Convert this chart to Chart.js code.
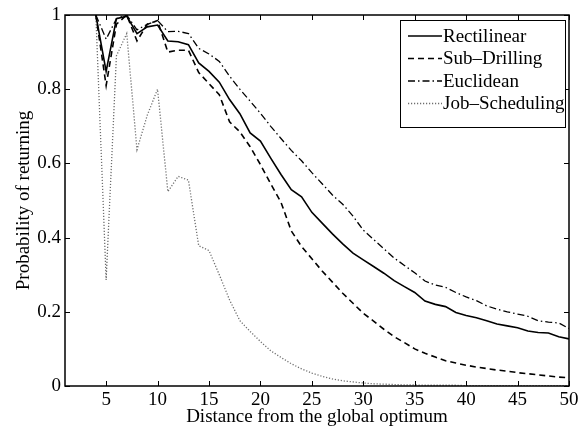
<!DOCTYPE html>
<html>
<head>
<meta charset="utf-8">
<script src="https://cdn.jsdelivr.net/npm/chart.js@4.4.1/dist/chart.umd.min.js"></script>
<style>
  html, body { margin: 0; padding: 0; background: #fff; }
  #wrap { width: 578px; height: 428px; position: relative; }
</style>
</head>
<body>
<div id="wrap"><canvas id="returnChart"></canvas></div>
<script>
// distance from the optimum (x) and probability of returning per landscape
const distances = [4, 5, 6, 7, 8, 9, 10, 11, 12, 13, 14, 15, 16, 17, 18, 19, 20, 21, 22, 23,
    24, 25, 26, 27, 28, 29, 30, 31, 32, 33, 34, 35, 36, 37, 38, 39, 40, 41, 42, 43,
    44, 45, 46, 47, 48, 49, 50];

const rectilinear = [1.0, 0.848, 0.99, 0.997, 0.95, 0.968, 0.973, 0.93, 0.928, 0.92,
    0.871, 0.848, 0.819, 0.772, 0.734, 0.682, 0.66, 0.614, 0.57, 0.529,
    0.51, 0.468, 0.439, 0.41, 0.383, 0.358, 0.34, 0.322, 0.304, 0.284,
    0.268, 0.252, 0.229, 0.22, 0.214, 0.198, 0.19, 0.184, 0.176, 0.167,
    0.162, 0.157, 0.148, 0.144, 0.143, 0.133, 0.127];

const subDrilling = [1.0, 0.81, 0.975, 1.0, 0.93, 0.975, 0.985, 0.90, 0.905, 0.905,
    0.845, 0.815, 0.785, 0.712, 0.685, 0.645, 0.597, 0.545, 0.495, 0.418,
    0.376, 0.343, 0.31, 0.28, 0.25, 0.223, 0.196, 0.175, 0.153, 0.133,
    0.117, 0.10, 0.088, 0.078, 0.068, 0.062, 0.056, 0.051, 0.047, 0.043,
    0.04, 0.036, 0.033, 0.03, 0.027, 0.024, 0.022];

const euclidean = [1.0, 0.935, 0.99, 1.0, 0.96, 0.975, 0.985, 0.955, 0.956, 0.95,
    0.91, 0.895, 0.875, 0.835, 0.80, 0.768, 0.735, 0.70, 0.667, 0.635,
    0.607, 0.575, 0.545, 0.515, 0.49, 0.458, 0.42, 0.395, 0.37, 0.345,
    0.325, 0.305, 0.283, 0.272, 0.266, 0.252, 0.24, 0.23, 0.216, 0.207,
    0.2, 0.194, 0.188, 0.176, 0.172, 0.17, 0.155];

const jobScheduling = [1.0, 0.286, 0.89, 0.95, 0.637, 0.73, 0.80, 0.524, 0.565, 0.555,
    0.378, 0.365, 0.30, 0.232, 0.176, 0.147, 0.12, 0.095, 0.077, 0.06,
    0.046, 0.035, 0.026, 0.019, 0.014, 0.011, 0.008, 0.006, 0.005, 0.004,
    0.003, 0.003, 0.002, 0.002, 0.002, 0.002, 0.001, 0.001, 0.001, 0.001,
    0.001, 0.001, 0.001, 0.001, 0.001, 0.001, 0.001];

const xTicks = [5, 10, 15, 20, 25, 30, 35, 40, 45, 50];
const yTicks = [0, 0.2, 0.4, 0.6, 0.8, 1];

const FONT = "'Liberation Serif', 'Times New Roman', serif";

const toPoints = (ys) => distances.map((d, i) => ({ x: d, y: ys[i] }));

const series = [
    { label: 'Rectilinear', data: rectilinear, color: '#000', width: 1.6, dash: [] },
    { label: 'Sub\u2013Drilling', data: subDrilling, color: '#000', width: 1.6, dash: [6, 4] },
    { label: 'Euclidean', data: euclidean, color: '#000', width: 1.3, dash: [7, 3, 1.5, 3] },
    { label: 'Job\u2013Scheduling', data: jobScheduling, color: '#6e6e6e', width: 1.3, dash: [1.2, 1.8] }
];

// box around the plot, inward ticks on all four sides, and a boxed legend
const framePlugin = {
    id: 'frame',
    afterDraw(chart) {
        const { ctx, chartArea: a, scales } = chart;
        const tick = 5;
        ctx.save();
        ctx.strokeStyle = '#000';
        ctx.lineWidth = 1;
        ctx.setLineDash([]);
        xTicks.forEach(v => {
            const px = Math.round(scales.x.getPixelForValue(v)) + 0.5;
            ctx.beginPath();
            ctx.moveTo(px, a.bottom); ctx.lineTo(px, a.bottom - tick);
            ctx.moveTo(px, a.top); ctx.lineTo(px, a.top + tick);
            ctx.stroke();
        });
        yTicks.forEach(v => {
            const py = Math.round(scales.y.getPixelForValue(v)) + 0.5;
            ctx.beginPath();
            ctx.moveTo(a.left, py); ctx.lineTo(a.left + tick, py);
            ctx.moveTo(a.right, py); ctx.lineTo(a.right - tick, py);
            ctx.stroke();
        });
        ctx.lineWidth = 1.5;
        ctx.strokeRect(a.left, a.top, a.right - a.left, a.bottom - a.top);

        // legend
        const box = { x: 400.5, y: 20.5, w: 165, h: 107 };
        ctx.fillStyle = '#fff';
        ctx.fillRect(box.x, box.y, box.w, box.h);
        ctx.lineWidth = 1;
        ctx.strokeRect(box.x, box.y, box.w, box.h);
        ctx.font = '19px ' + FONT;
        ctx.textBaseline = 'middle';
        ctx.textAlign = 'left';
        series.forEach((s, i) => {
            const cy = 36 + i * 22.5;
            ctx.beginPath();
            ctx.strokeStyle = s.color;
            ctx.lineWidth = s.width;
            ctx.setLineDash(s.dash);
            ctx.moveTo(408, cy);
            ctx.lineTo(442, cy);
            ctx.stroke();
            ctx.setLineDash([]);
            ctx.fillStyle = '#000';
            ctx.fillText(s.label, 443, cy + 1);
        });
        ctx.restore();
    }
};

new Chart(document.getElementById('returnChart'), {
    type: 'line',
    data: {
        datasets: series.map(s => ({
            label: s.label,
            data: toPoints(s.data),
            borderColor: s.color,
            borderWidth: s.width,
            borderDash: s.dash,
            pointRadius: 0,
            tension: 0,
            fill: false
        }))
    },
    options: {
        responsive: true,
        maintainAspectRatio: false,
        animation: false,
        layout: { padding: { top: 15, right: 9, left: 0, bottom: 0 } },
        plugins: {
            legend: { display: false },
            tooltip: { enabled: false }
        },
        scales: {
            x: {
                type: 'linear',
                min: 1,
                max: 50,
                grid: { display: false, drawTicks: false },
                border: { display: false },
                afterBuildTicks: scale => { scale.ticks = xTicks.map(v => ({ value: v })); },
                afterFit: scale => {
                    scale.height = 42;
                    scale.paddingLeft = 0;
                    scale.paddingRight = 0;
                },
                ticks: {
                    color: '#000',
                    font: { family: FONT, size: 19 },
                    padding: 3,
                    maxRotation: 0,
                    autoSkip: false
                },
                title: {
                    display: true,
                    text: 'Distance from the global optimum',
                    color: '#000',
                    font: { family: FONT, size: 19 },
                    padding: { top: 0, bottom: 0 }
                }
            },
            y: {
                min: 0,
                max: 1,
                grid: { display: false, drawTicks: false },
                border: { display: false },
                afterBuildTicks: scale => { scale.ticks = yTicks.map(v => ({ value: v })); },
                afterFit: scale => {
                    scale.width = 65;
                    scale.paddingTop = 0;
                    scale.paddingBottom = 0;
                },
                ticks: {
                    color: '#000',
                    font: { family: FONT, size: 19 },
                    padding: 4,
                    callback: v => String(v)
                },
                title: {
                    display: true,
                    text: 'Probability of returning',
                    color: '#000',
                    font: { family: FONT, size: 19 },
                    padding: { top: 13, bottom: 0 }
                }
            }
        }
    },
    plugins: [framePlugin]
});
</script>
</body>
</html>
